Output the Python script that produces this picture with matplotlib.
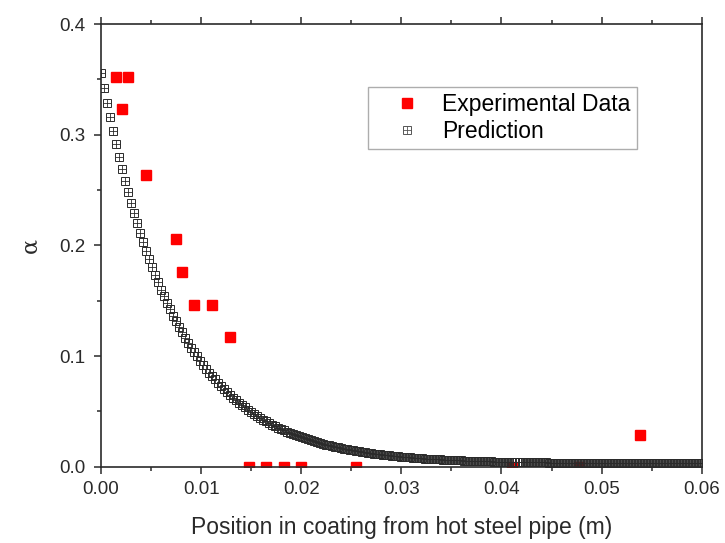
import numpy as np
import matplotlib.pyplot as plt
from matplotlib.lines import Line2D

plt.rcParams['font.family'] = ['Liberation Sans', 'DejaVu Sans']

# experimental data
exp_x = [0.0015, 0.0027, 0.0021, 0.0045, 0.0075, 0.0081, 0.0093, 0.0111, 0.0129,
         0.0148, 0.0165, 0.0183, 0.0200, 0.0255, 0.0411, 0.0477, 0.0538]
exp_y = [0.352, 0.352, 0.323, 0.264, 0.206, 0.176, 0.146, 0.146, 0.117,
         0.0, 0.0, 0.0, 0.0, 0.0, 0.0, 0.0, 0.029]

# model prediction
pred_x = [
    0.0000, 0.0003, 0.0006, 0.0009, 0.0012, 0.0015, 0.0018, 0.0021, 0.0024, 0.0027,
    0.0030, 0.0033, 0.0036, 0.0039, 0.0042, 0.0045, 0.0048, 0.0051, 0.0054, 0.0057,
    0.0060, 0.0063, 0.0066, 0.0069, 0.0072, 0.0075, 0.0078, 0.0081, 0.0084, 0.0087,
    0.0090, 0.0093, 0.0096, 0.0099, 0.0102, 0.0105, 0.0108, 0.0111, 0.0114, 0.0117,
    0.0120, 0.0123, 0.0126, 0.0129, 0.0132, 0.0135, 0.0138, 0.0141, 0.0144, 0.0147,
    0.0150, 0.0153, 0.0156, 0.0159, 0.0162, 0.0165, 0.0168, 0.0171, 0.0174, 0.0177,
    0.0180, 0.0183, 0.0186, 0.0189, 0.0192, 0.0195, 0.0198, 0.0201, 0.0204, 0.0207,
    0.0210, 0.0213, 0.0216, 0.0219, 0.0222, 0.0225, 0.0228, 0.0231, 0.0234, 0.0237,
    0.0240, 0.0243, 0.0246, 0.0249, 0.0252, 0.0255, 0.0258, 0.0261, 0.0264, 0.0267,
    0.0270, 0.0273, 0.0276, 0.0279, 0.0282, 0.0285, 0.0288, 0.0291, 0.0294, 0.0297,
    0.0300, 0.0303, 0.0306, 0.0309, 0.0312, 0.0315, 0.0318, 0.0321, 0.0324, 0.0327,
    0.0330, 0.0333, 0.0336, 0.0339, 0.0342, 0.0345, 0.0348, 0.0351, 0.0354, 0.0357,
    0.0360, 0.0363, 0.0366, 0.0369, 0.0372, 0.0375, 0.0378, 0.0381, 0.0384, 0.0387,
    0.0390, 0.0393, 0.0396, 0.0399, 0.0402, 0.0405, 0.0408, 0.0411, 0.0414, 0.0417,
    0.0420, 0.0423, 0.0426, 0.0429, 0.0432, 0.0435, 0.0438, 0.0441, 0.0444, 0.0447,
    0.0450, 0.0453, 0.0456, 0.0459, 0.0462, 0.0465, 0.0468, 0.0471, 0.0474, 0.0477,
    0.0480, 0.0483, 0.0486, 0.0489, 0.0492, 0.0495, 0.0498, 0.0501, 0.0504, 0.0507,
    0.0510, 0.0513, 0.0516, 0.0519, 0.0522, 0.0525, 0.0528, 0.0531, 0.0534, 0.0537,
    0.0540, 0.0543, 0.0546, 0.0549, 0.0552, 0.0555, 0.0558, 0.0561, 0.0564, 0.0567,
    0.0570, 0.0573, 0.0576, 0.0579, 0.0582, 0.0585, 0.0588, 0.0591, 0.0594, 0.0597,
    0.0600]
pred_y = [
    0.3560, 0.3420, 0.3285, 0.3156, 0.3032, 0.2913, 0.2798, 0.2689, 0.2583, 0.2482,
    0.2384, 0.2291, 0.2201, 0.2115, 0.2032, 0.1953, 0.1876, 0.1803, 0.1733, 0.1665,
    0.1600, 0.1538, 0.1478, 0.1421, 0.1366, 0.1313, 0.1262, 0.1213, 0.1166, 0.1121,
    0.1077, 0.1036, 0.0996, 0.0958, 0.0921, 0.0885, 0.0851, 0.0819, 0.0788, 0.0757,
    0.0729, 0.0701, 0.0674, 0.0649, 0.0624, 0.0601, 0.0578, 0.0556, 0.0535, 0.0515,
    0.0496, 0.0477, 0.0460, 0.0443, 0.0426, 0.0411, 0.0395, 0.0381, 0.0367, 0.0354,
    0.0341, 0.0328, 0.0317, 0.0305, 0.0294, 0.0284, 0.0274, 0.0264, 0.0255, 0.0246,
    0.0237, 0.0229, 0.0221, 0.0214, 0.0206, 0.0199, 0.0193, 0.0186, 0.0180, 0.0174,
    0.0168, 0.0163, 0.0158, 0.0152, 0.0148, 0.0143, 0.0138, 0.0134, 0.0130, 0.0126,
    0.0122, 0.0119, 0.0115, 0.0112, 0.0108, 0.0105, 0.0102, 0.0099, 0.0097, 0.0094,
    0.0091, 0.0089, 0.0087, 0.0084, 0.0082, 0.0080, 0.0078, 0.0076, 0.0074, 0.0073,
    0.0071, 0.0069, 0.0068, 0.0066, 0.0065, 0.0063, 0.0062, 0.0061, 0.0060, 0.0058,
    0.0057, 0.0056, 0.0055, 0.0054, 0.0053, 0.0052, 0.0051, 0.0051, 0.0050, 0.0049,
    0.0048, 0.0047, 0.0047, 0.0046, 0.0045, 0.0045, 0.0044, 0.0044, 0.0043, 0.0043,
    0.0042, 0.0042, 0.0041, 0.0041, 0.0040, 0.0040, 0.0040, 0.0039, 0.0039, 0.0038,
    0.0038, 0.0038, 0.0037, 0.0037, 0.0037, 0.0037, 0.0036, 0.0036, 0.0036, 0.0036,
    0.0035, 0.0035, 0.0035, 0.0035, 0.0035, 0.0034, 0.0034, 0.0034, 0.0034, 0.0034,
    0.0034, 0.0033, 0.0033, 0.0033, 0.0033, 0.0033, 0.0033, 0.0033, 0.0033, 0.0033,
    0.0032, 0.0032, 0.0032, 0.0032, 0.0032, 0.0032, 0.0032, 0.0032, 0.0032, 0.0032,
    0.0032, 0.0031, 0.0031, 0.0031, 0.0031, 0.0031, 0.0031, 0.0031, 0.0031, 0.0031,
    0.0031]

fig = plt.figure(figsize=(7.25, 5.43), dpi=100)
ax = fig.add_axes([0.1393, 0.1405, 0.8286, 0.8153])

ax.plot(exp_x, exp_y, ls='none', marker='s', ms=7, color='#ff0000',
        mec='#ff0000', zorder=2)
ax.plot(pred_x, pred_y, ls='none', marker='s', ms=5.6, mfc='none',
        mec='#2a2a2a', mew=0.7, zorder=3)
ax.plot(pred_x, pred_y, ls='none', marker='+', ms=5.6, color='#2a2a2a',
        mew=0.6, zorder=3)

ax.set_xlim(0, 0.06)
ax.set_ylim(0, 0.4)
ax.set_xticks([0.00, 0.01, 0.02, 0.03, 0.04, 0.05, 0.06])
ax.set_yticks([0.0, 0.1, 0.2, 0.3, 0.4])
ax.set_xticks([0.005, 0.015, 0.025, 0.035, 0.045, 0.055], minor=True)
ax.set_yticks([0.05, 0.15, 0.25, 0.35], minor=True)
ax.xaxis.set_major_formatter(plt.FormatStrFormatter('%.2f'))
ax.yaxis.set_major_formatter(plt.FormatStrFormatter('%.1f'))
ax.tick_params(which='both', direction='out', top=True, right=False,
               width=1.1, labelsize=13.5, colors='#2a2a2a')
ax.tick_params(which='major', length=5)
ax.tick_params(which='minor', length=3)
ax.tick_params(axis='x', pad=5)
ax.tick_params(axis='y', pad=6)
for s in ax.spines.values():
    s.set_linewidth(1.2)
    s.set_color('#2a2a2a')
    s.set_zorder(4)

ax.set_xlabel('Position in coating from hot steel pipe (m)', fontsize=16.5,
              color='#2a2a2a', labelpad=13)
ax.set_ylabel('\u03b1', fontsize=16, family='DejaVu Serif', color='#2a2a2a',
              labelpad=13)

h_exp = Line2D([], [], ls='none', marker='s', ms=6.5, color='#ff0000')
h_box = Line2D([], [], ls='none', marker='s', ms=6, mfc='none', mec='#555555', mew=0.7)
h_plus = Line2D([], [], ls='none', marker='+', ms=6, color='#555555', mew=0.6)
leg = ax.legend([h_exp, (h_box, h_plus)], ['Experimental Data', 'Prediction'],
                loc='upper left', bbox_to_anchor=(0.4445, 0.8577), borderaxespad=0,
                fontsize=16.5, frameon=True, fancybox=False, borderpad=0.25,
                handlelength=2.9, handletextpad=0.1, labelspacing=0.2)
leg.get_frame().set_edgecolor('#999999')
leg.get_frame().set_linewidth(1.0)

fig.savefig('out.png', dpi=100)
